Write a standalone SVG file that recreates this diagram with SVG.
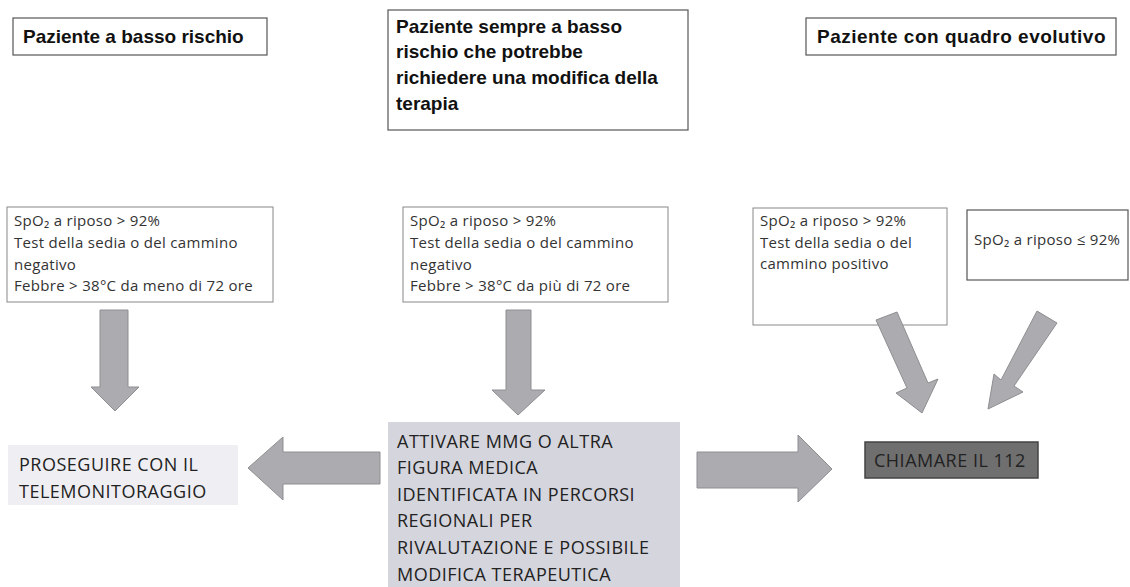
<svg xmlns="http://www.w3.org/2000/svg" width="1130" height="587" viewBox="0 0 1130 587">
<style>
.hdr{fill:#fff;stroke:#555;stroke-width:1.2}
.crit{fill:#fff;stroke:#888;stroke-width:1}
.ht{font-family:"Liberation Sans",Arial,sans-serif;font-weight:bold;font-size:19px;fill:#111}
.ct{font-family:"Open Sans","Liberation Sans",sans-serif;font-size:15px;letter-spacing:0.3px;fill:#333}
.bt{font-family:"Open Sans","Liberation Sans",sans-serif;font-size:18px;letter-spacing:0.5px;fill:#222}
.arr{fill:#acacb0;stroke:#8e8e92;stroke-width:1}
</style>
<rect width="1130" height="587" fill="#fff"/>
<g id="hdr-low">
<rect class="hdr" x="13" y="18" width="254" height="37"/>
<text class="ht" x="23" y="43">Paziente a basso rischio</text>
</g>
<g id="hdr-mid">
<rect class="hdr" x="388" y="10" width="300" height="120"/>
<text class="ht" x="396" y="33">Paziente sempre a basso</text>
<text class="ht" x="396" y="58">rischio che potrebbe</text>
<text class="ht" x="396" y="84">richiedere una modifica della</text>
<text class="ht" x="396" y="110">terapia</text>
</g>
<g id="hdr-evo">
<rect class="hdr" x="806" y="18" width="310" height="37"/>
<text class="ht" x="817" y="43" letter-spacing="0.5">Paziente con quadro evolutivo</text>
</g>
<g id="crit-low">
<rect class="crit" x="7" y="207" width="266" height="95"/>
<text class="ct" x="14" y="226">SpO₂ a riposo &gt; 92%</text>
<text class="ct" x="14" y="248">Test della sedia o del cammino</text>
<text class="ct" x="14" y="270">negativo</text>
<text class="ct" x="14" y="291">Febbre &gt; 38°C da meno di 72 ore</text>
</g>
<g id="crit-mid">
<rect class="crit" x="403" y="207" width="265" height="95"/>
<text class="ct" x="410" y="226">SpO₂ a riposo &gt; 92%</text>
<text class="ct" x="410" y="248">Test della sedia o del cammino</text>
<text class="ct" x="410" y="270">negativo</text>
<text class="ct" x="410" y="291">Febbre &gt; 38°C da più di 72 ore</text>
</g>
<g id="crit-pos">
<rect class="crit" x="753" y="208" width="194" height="117"/>
<text class="ct" x="760" y="226">SpO₂ a riposo &gt; 92%</text>
<text class="ct" x="760" y="248">Test della sedia o del</text>
<text class="ct" x="760" y="269">cammino positivo</text>
</g>
<g id="crit-low-spo2">
<rect class="hdr" x="967" y="210" width="161" height="70"/>
<text class="ct" x="974" y="245">SpO₂ a riposo ≤ 92%</text>
</g>
<g id="connectors">
<polygon class="arr" points="100,310 128,310 128,387 139,387 115,411 91,387 100,387"/>
<polygon class="arr" points="506,310 531,310 531,390 545,390 518,415 492,390 506,390"/>
<polygon class="arr" points="380,452 283,452 283,437 248,468 283,500 283,484 380,484"/>
<polygon class="arr" points="697,452 798,452 798,435 832,469 798,502 798,488 697,488"/>
<polygon class="arr" points="876,320 897,312 928,383 938,379 922,413 896,393 907,388"/>
<polygon class="arr" points="1037,311 1057,323 1014,386 1023,392 988,409 994,374 1001,380"/>
</g>
<g id="action-monitor">
<rect x="8" y="445" width="230" height="60" fill="#efeff3"/>
<text class="bt" x="19" y="471" font-size="19">PROSEGUIRE CON IL</text>
<text class="bt" x="19" y="498" font-size="19">TELEMONITORAGGIO</text>
</g>
<g id="action-mmg">
<rect x="388" y="422" width="292" height="170" fill="#d5d5dd"/>
<text class="bt" x="397" y="448">ATTIVARE MMG O ALTRA</text>
<text class="bt" x="397" y="474">FIGURA MEDICA</text>
<text class="bt" x="397" y="501">IDENTIFICATA IN PERCORSI</text>
<text class="bt" x="397" y="527">REGIONALI PER</text>
<text class="bt" x="397" y="554">RIVALUTAZIONE E POSSIBILE</text>
<text class="bt" x="397" y="581">MODIFICA TERAPEUTICA</text>
</g>
<g id="action-112">
<rect x="865" y="442" width="173" height="36" fill="#6f6f6f" stroke="#444" stroke-width="1.5"/>
<text class="bt" x="874" y="467" fill="#2a2a2a" letter-spacing="0.6">CHIAMARE IL 112</text>
</g>
</svg>
